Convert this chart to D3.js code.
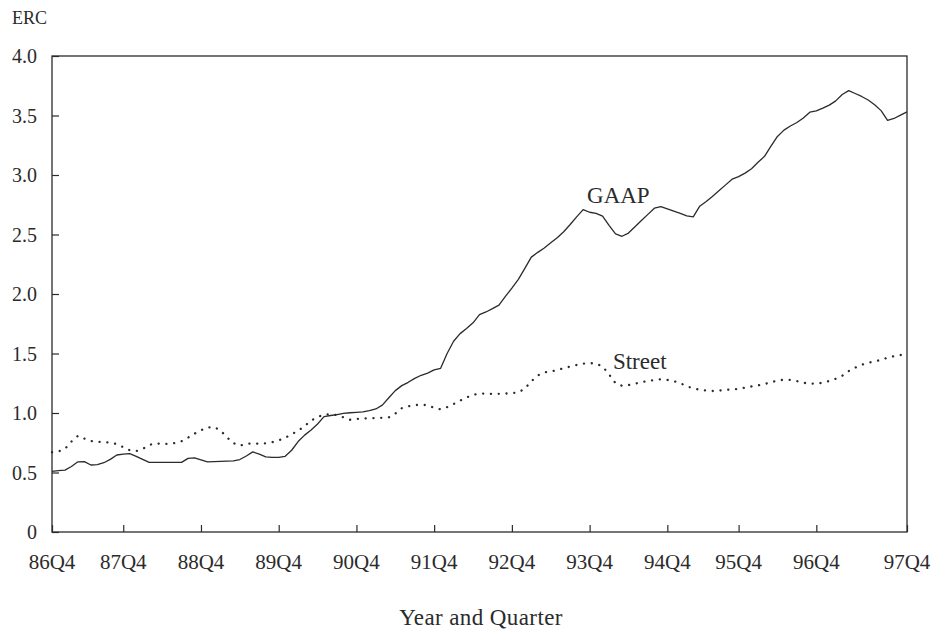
<!DOCTYPE html>
<html>
<head>
<meta charset="utf-8">
<script src="https://cdn.jsdelivr.net/npm/d3@7"></script>
<style>
  html, body { margin: 0; padding: 0; background: #fff; }
  svg text { font-family: "Liberation Serif", "Times New Roman", serif; fill: #2b2b2b; }
</style>
</head>
<body>
<svg id="chart" width="935" height="630"></svg>
<script>
// Monthly earnings response coefficients, 86Q4 through 97Q4 (period index 0..132)
const gaapValues = [
  0.51, 0.515, 0.52, 0.55, 0.59, 0.592, 0.563, 0.566, 0.582, 0.61,
  0.647, 0.655, 0.659, 0.636, 0.61, 0.585, 0.585, 0.585, 0.585, 0.585,
  0.585, 0.619, 0.623, 0.607, 0.59, 0.592, 0.594, 0.596, 0.598, 0.609,
  0.639, 0.673, 0.654, 0.632, 0.627, 0.627, 0.636, 0.687, 0.76, 0.814,
  0.857, 0.908, 0.97, 0.979, 0.987, 0.996, 1.002, 1.006, 1.01, 1.02,
  1.034, 1.066, 1.128, 1.188, 1.23, 1.258, 1.291, 1.317, 1.335, 1.362,
  1.376, 1.50, 1.603, 1.667, 1.71, 1.758, 1.826, 1.849, 1.877, 1.907,
  1.98, 2.049, 2.123, 2.215, 2.31, 2.35, 2.387, 2.43, 2.473, 2.523,
  2.584, 2.648, 2.709, 2.687, 2.677, 2.655, 2.577, 2.505, 2.485, 2.512,
  2.565, 2.617, 2.669, 2.721, 2.734, 2.715, 2.696, 2.677, 2.657, 2.648,
  2.738, 2.777, 2.822, 2.869, 2.917, 2.965, 2.986, 3.016, 3.053, 3.107,
  3.157, 3.242, 3.324, 3.377, 3.412, 3.441, 3.479, 3.528, 3.539, 3.562,
  3.587, 3.623, 3.677, 3.709, 3.685, 3.66, 3.63, 3.59, 3.541, 3.459,
  3.475, 3.503, 3.53
];

const streetValues = [
  0.67, 0.677, 0.698, 0.76, 0.808, 0.785, 0.764, 0.758, 0.756, 0.751,
  0.739, 0.713, 0.687, 0.68, 0.698, 0.731, 0.746, 0.74, 0.74, 0.748,
  0.763, 0.793, 0.826, 0.855, 0.878, 0.883, 0.854, 0.796, 0.747, 0.726,
  0.741, 0.745, 0.741, 0.746, 0.755, 0.77, 0.792, 0.822, 0.851, 0.89,
  0.937, 0.966, 0.987, 0.991, 0.982, 0.964, 0.943, 0.95, 0.954, 0.956,
  0.957, 0.96, 0.964, 0.995, 1.04, 1.056, 1.066, 1.07, 1.065, 1.043,
  1.031, 1.049, 1.075, 1.104, 1.131, 1.151, 1.165, 1.162, 1.16, 1.161,
  1.163, 1.168, 1.173, 1.205, 1.266, 1.316, 1.341, 1.349, 1.361, 1.376,
  1.39, 1.404, 1.415, 1.42, 1.414, 1.392, 1.325, 1.25, 1.229, 1.235,
  1.246, 1.26, 1.269, 1.277, 1.283, 1.278, 1.268, 1.25, 1.226, 1.206,
  1.196, 1.188, 1.185, 1.188, 1.194, 1.198, 1.203, 1.214, 1.223, 1.232,
  1.243, 1.258, 1.272, 1.28, 1.278, 1.268, 1.254, 1.247, 1.246, 1.255,
  1.269, 1.288, 1.313, 1.352, 1.381, 1.405, 1.421, 1.435, 1.446, 1.465,
  1.478, 1.487, 1.50
];

// Year-end quarter labels and the period index each one marks
const tickLabels = ["86Q4", "87Q4", "88Q4", "89Q4", "90Q4", "91Q4",
                    "92Q4", "93Q4", "94Q4", "95Q4", "96Q4", "97Q4"];
const tickPeriods = [0, 11, 23, 35, 47, 59, 71, 83, 95, 106, 118, 132];

const yTicks = [0, 0.5, 1.0, 1.5, 2.0, 2.5, 3.0, 3.5, 4.0];

const svg = d3.select("#chart");
const plot = { left: 52, right: 907, top: 56, bottom: 532 };

const x = d3.scaleLinear().domain([0, gaapValues.length - 1]).range([plot.left, plot.right]);
const y = d3.scaleLinear().domain([0, 4]).range([plot.bottom, plot.top]);

const ink = "#2b2b2b";

// Frame around the plot area
svg.append("rect")
  .attr("x", plot.left).attr("y", plot.top)
  .attr("width", plot.right - plot.left).attr("height", plot.bottom - plot.top)
  .attr("fill", "none").attr("stroke", ink).attr("stroke-width", 1.3);

// Y axis: inward ticks on the left edge
const yAxis = d3.axisRight(y)
  .tickValues(yTicks)
  .tickSize(7)
  .tickFormat(() => "");
const gy = svg.append("g").attr("transform", `translate(${plot.left},0)`).call(yAxis);
gy.select(".domain").remove();
gy.selectAll(".tick line").attr("stroke", ink).attr("stroke-width", 1.2);

svg.append("g").selectAll("text")
  .data(yTicks)
  .join("text")
  .attr("x", 37)
  .attr("y", d => y(d))
  .attr("dy", "0.35em")
  .attr("text-anchor", "end")
  .attr("font-size", 20)
  .text(d => d === 0 ? "0" : d3.format(".1f")(d));

// X axis: inward ticks on the bottom edge
const xAxis = d3.axisTop(x)
  .tickValues(tickPeriods)
  .tickSize(7)
  .tickFormat(() => "");
const gx = svg.append("g").attr("transform", `translate(0,${plot.bottom})`).call(xAxis);
gx.select(".domain").remove();
gx.selectAll(".tick line").attr("stroke", ink).attr("stroke-width", 1.2);

svg.append("g").selectAll("text")
  .data(tickPeriods)
  .join("text")
  .attr("x", d => x(d))
  .attr("y", 569)
  .attr("text-anchor", "middle")
  .attr("font-size", 21)
  .text((d, i) => tickLabels[i]);

// Axis titles
svg.append("text")
  .attr("x", 12).attr("y", 24)
  .attr("font-size", 18)
  .text("ERC");

svg.append("text")
  .attr("x", 481).attr("y", 625)
  .attr("text-anchor", "middle")
  .attr("font-size", 23)
  .attr("letter-spacing", 0.4)
  .text("Year and Quarter");

// Series lines
const line = d3.line()
  .x((d, i) => x(i))
  .y(d => y(d));

svg.append("path")
  .datum(gaapValues)
  .attr("d", line)
  .attr("fill", "none")
  .attr("stroke", ink)
  .attr("stroke-width", 1.3)
  .attr("stroke-linejoin", "round");

svg.append("path")
  .datum(streetValues)
  .attr("d", line)
  .attr("fill", "none")
  .attr("stroke", ink)
  .attr("stroke-width", 2.3)
  .attr("stroke-linecap", "round")
  .attr("stroke-dasharray", "0.1 7.7");

// Series labels
svg.append("text")
  .attr("x", x(82.6)).attr("y", y(2.765))
  .attr("font-size", 23)
  .text("GAAP");

svg.append("text")
  .attr("x", x(86.6)).attr("y", y(1.37))
  .attr("font-size", 23)
  .text("Street");
</script>
</body>
</html>
